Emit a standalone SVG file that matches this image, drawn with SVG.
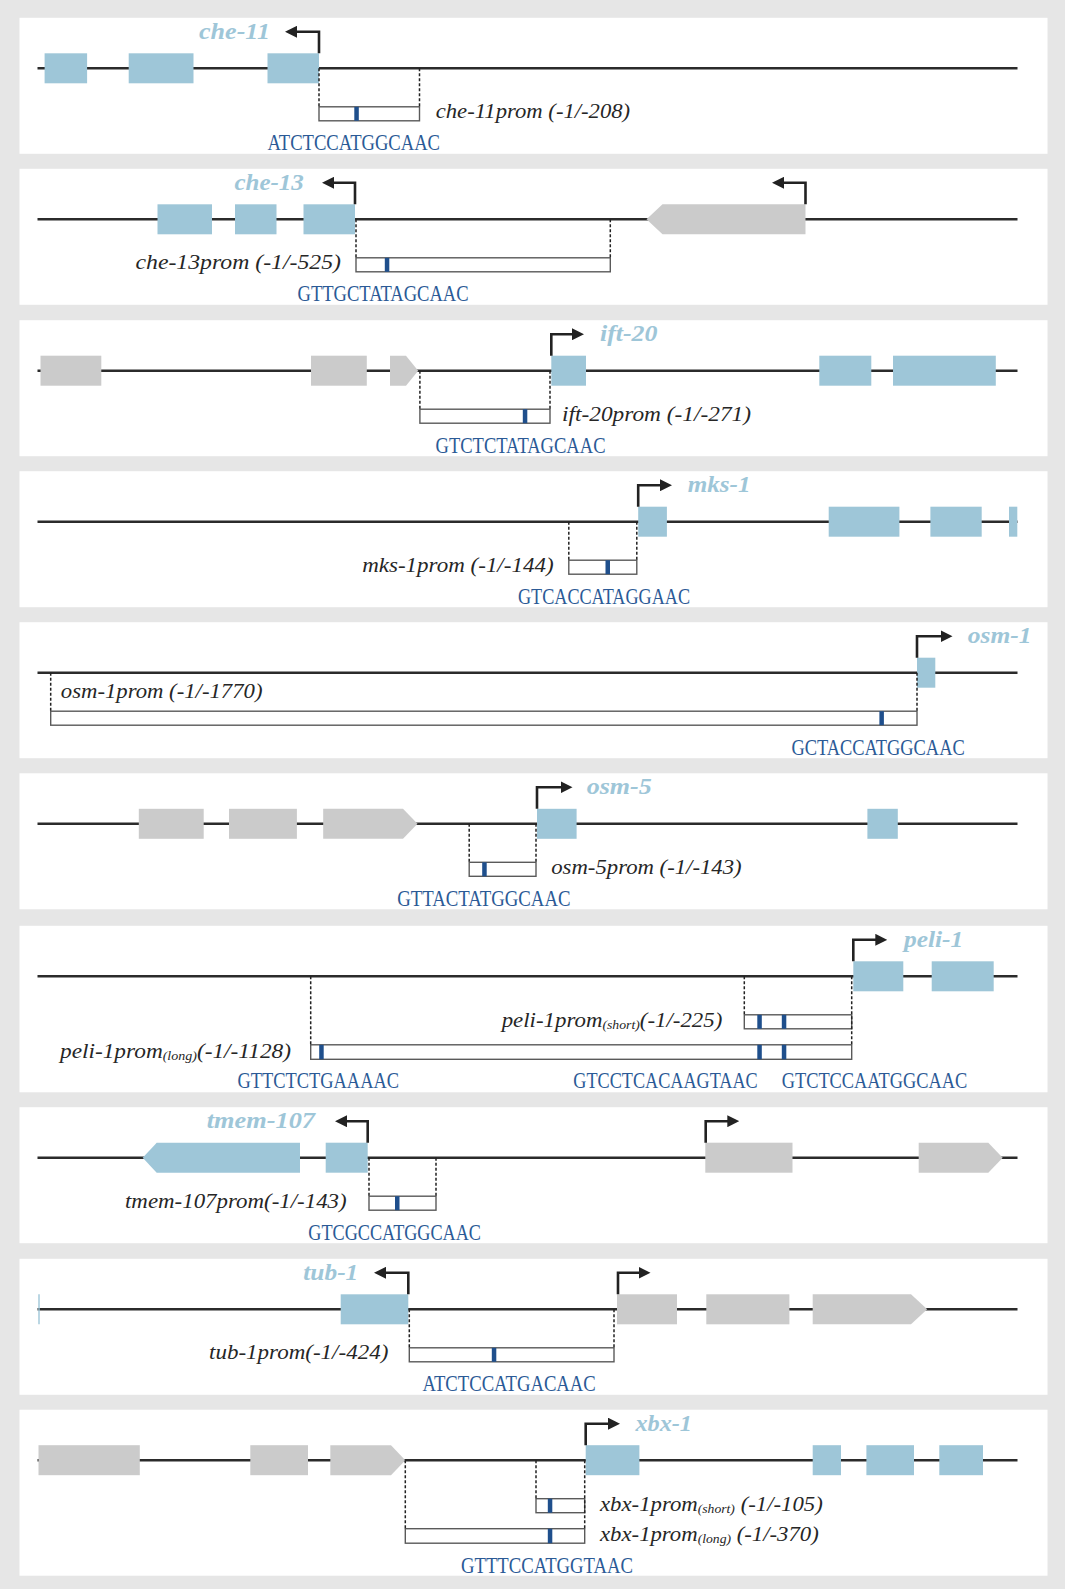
<svg xmlns="http://www.w3.org/2000/svg" width="1065" height="1589" viewBox="0 0 1065 1589">
  <style>
    .bg { fill: #e6e6e6; }
    .panel { fill: #ffffff; }
    .chr { stroke: #2b2b2b; stroke-width: 2.6; fill: none; }
    .exon { fill: #9ec6d8; }
    .other { fill: #cbcbcb; }
    .tss { fill: none; stroke: #222222; stroke-width: 2.6; }
    .guide { stroke: #222222; stroke-width: 1.5; stroke-dasharray: 3 2; fill: none; }
    .prom { fill: #ffffff; stroke: #5a5a5a; stroke-width: 1.4; }
    .site { fill: #1f4f8c; }
    .gname { font-family: "Liberation Serif", serif; font-weight: bold; font-style: italic; font-size: 23px; fill: #9ec6d8; }
    .plabel { font-family: "Liberation Serif", serif; font-style: italic; font-size: 20px; fill: #262626; }
    .sub { font-size: 12px; }
    .seq { font-family: "Liberation Serif", serif; font-size: 23px; fill: #2b5a96; }
  </style>
  <defs>
    <marker id="head" markerUnits="userSpaceOnUse" markerWidth="12" markerHeight="12" refX="6" refY="6" orient="auto">
      <path d="M0,0 L12,6 L0,12 z" fill="#222222"/>
    </marker>
    <line id="chrline" x1="37.5" y1="50" x2="1017.5" y2="50" class="chr"/>
  </defs>

  <rect class="bg" x="0" y="0" width="1065" height="1589"/>

  <!-- che-11 -->
  <g id="panel-che-11" transform="translate(0,18.3)">
    <rect class="panel" x="19.5" y="-0.5" width="1028" height="136"/>
    <use href="#chrline"/>
    <g id="gene-che-11">
      <rect class="exon" x="44.6" y="35" width="42.5" height="30"/>
      <rect class="exon" x="128.7" y="35" width="64.8" height="30"/>
      <rect class="exon" x="267.5" y="35" width="51.5" height="30"/>
      <text class="gname" x="199" y="20.5" textLength="71" lengthAdjust="spacingAndGlyphs">che-11</text>
    </g>
    <g id="prom-che-11">
      <rect class="prom" x="319" y="88.5" width="100.5" height="14"/>
      <rect class="site" x="354.3" y="88.5" width="4.5" height="14"/>
      <text class="plabel" x="435.7" y="100" textLength="194.5" lengthAdjust="spacingAndGlyphs">che-11prom (-1/-208)</text>
      <text class="seq" x="267.5" y="132" textLength="172.5" lengthAdjust="spacingAndGlyphs">ATCTCCATGGCAAC</text>
    </g>
    <g id="links-che-11">
      <path class="tss" d="M319,35 V13.5 H291" marker-end="url(#head)"/>
      <path class="guide" d="M319,50 V88.5 M419.5,50 V88.5"/>
    </g>
  </g>

  <!-- che-13 -->
  <g id="panel-che-13" transform="translate(0,169.3)">
    <rect class="panel" x="19.5" y="-0.5" width="1028" height="136"/>
    <use href="#chrline"/>
    <g id="gene-che-13">
      <rect class="exon" x="157.5" y="35" width="54.5" height="30"/>
      <rect class="exon" x="235" y="35" width="41.5" height="30"/>
      <rect class="exon" x="303.5" y="35" width="51.5" height="30"/>
      <text class="gname" x="234.4" y="20.5" textLength="69.5" lengthAdjust="spacingAndGlyphs">che-13</text>
    </g>
    <g id="gene-che-13-neighbour">
      <polygon class="other" points="646.5,50 662.5,35 805.5,35 805.5,65 662.5,65"/>
    </g>
    <g id="prom-che-13">
      <rect class="prom" x="356" y="88.5" width="254.3" height="14"/>
      <rect class="site" x="384.8" y="88.5" width="4.5" height="14"/>
      <text class="plabel" x="135.5" y="100" textLength="205.5" lengthAdjust="spacingAndGlyphs">che-13prom (-1/-525)</text>
      <text class="seq" x="297.6" y="132" textLength="171" lengthAdjust="spacingAndGlyphs">GTTGCTATAGCAAC</text>
    </g>
    <g id="links-che-13">
      <path class="tss" d="M355,35 V13.5 H328" marker-end="url(#head)"/>
      <path class="tss" d="M805.5,35 V13.5 H778" marker-end="url(#head)"/>
      <path class="guide" d="M356,50 V88.5 M610.3,50 V88.5"/>
    </g>
  </g>

  <!-- ift-20 -->
  <g id="panel-ift-20" transform="translate(0,320.7)">
    <rect class="panel" x="19.5" y="-0.5" width="1028" height="136"/>
    <use href="#chrline"/>
    <g id="gene-ift-20-neighbours">
      <rect class="other" x="40.5" y="35" width="60.8" height="30"/>
      <rect class="other" x="311" y="35" width="55.8" height="30"/>
      <polygon class="other" points="390,35 406,35 418.2,50 406,65 390,65"/>
    </g>
    <g id="gene-ift-20">
      <rect class="exon" x="551.3" y="35" width="34.7" height="30"/>
      <rect class="exon" x="819.3" y="35" width="52" height="30"/>
      <rect class="exon" x="893" y="35" width="102.8" height="30"/>
      <text class="gname" x="600" y="20.5" textLength="57.5" lengthAdjust="spacingAndGlyphs">ift-20</text>
    </g>
    <g id="prom-ift-20">
      <rect class="prom" x="419.9" y="88.5" width="130.1" height="14"/>
      <rect class="site" x="522.8" y="88.5" width="4.5" height="14"/>
      <text class="plabel" x="562" y="100" textLength="189" lengthAdjust="spacingAndGlyphs">ift-20prom (-1/-271)</text>
      <text class="seq" x="435.5" y="132" textLength="170" lengthAdjust="spacingAndGlyphs">GTCTCTATAGCAAC</text>
    </g>
    <g id="links-ift-20">
      <path class="tss" d="M551.3,35 V13.5 H578" marker-end="url(#head)"/>
      <path class="guide" d="M419.9,50 V88.5 M550,50 V88.5"/>
    </g>
  </g>

  <!-- mks-1 -->
  <g id="panel-mks-1" transform="translate(0,471.7)">
    <rect class="panel" x="19.5" y="-0.5" width="1028" height="136"/>
    <use href="#chrline"/>
    <g id="gene-mks-1">
      <rect class="exon" x="638.2" y="35" width="28.7" height="30"/>
      <rect class="exon" x="828.7" y="35" width="70.7" height="30"/>
      <rect class="exon" x="930.4" y="35" width="51.3" height="30"/>
      <rect class="exon" x="1009" y="35" width="8.3" height="30"/>
      <text class="gname" x="687.7" y="20.5" textLength="62.8" lengthAdjust="spacingAndGlyphs">mks-1</text>
    </g>
    <g id="prom-mks-1">
      <rect class="prom" x="568.8" y="88.5" width="68" height="14"/>
      <rect class="site" x="605.5" y="88.5" width="4.5" height="14"/>
      <text class="plabel" x="362.2" y="100" textLength="191.4" lengthAdjust="spacingAndGlyphs">mks-1prom (-1/-144)</text>
      <text class="seq" x="518" y="132" textLength="172" lengthAdjust="spacingAndGlyphs">GTCACCATAGGAAC</text>
    </g>
    <g id="links-mks-1">
      <path class="tss" d="M638.2,35 V13.5 H666" marker-end="url(#head)"/>
      <path class="guide" d="M568.8,50 V88.5 M636.8,50 V88.5"/>
    </g>
  </g>

  <!-- osm-1 -->
  <g id="panel-osm-1" transform="translate(0,622.7)">
    <rect class="panel" x="19.5" y="-0.5" width="1028" height="136"/>
    <use href="#chrline"/>
    <g id="gene-osm-1">
      <rect class="exon" x="917" y="35" width="18.3" height="30"/>
      <text class="gname" x="967.7" y="20.5" textLength="63.8" lengthAdjust="spacingAndGlyphs">osm-1</text>
    </g>
    <g id="prom-osm-1">
      <rect class="prom" x="50.7" y="88.5" width="866.3" height="14"/>
      <rect class="site" x="879.4" y="88.5" width="4.5" height="14"/>
      <text class="plabel" x="60.8" y="75.5" textLength="201.7" lengthAdjust="spacingAndGlyphs">osm-1prom (-1/-1770)</text>
      <text class="seq" x="791.4" y="132" textLength="173.3" lengthAdjust="spacingAndGlyphs">GCTACCATGGCAAC</text>
    </g>
    <g id="links-osm-1">
      <path class="tss" d="M917,35 V13.5 H946.5" marker-end="url(#head)"/>
      <path class="guide" d="M50.7,50 V88.5 M917,50 V88.5"/>
    </g>
  </g>

  <!-- osm-5 -->
  <g id="panel-osm-5" transform="translate(0,773.8)">
    <rect class="panel" x="19.5" y="-0.5" width="1028" height="136"/>
    <use href="#chrline"/>
    <g id="gene-osm-5-neighbours">
      <rect class="other" x="138.8" y="35" width="64.9" height="30"/>
      <rect class="other" x="229" y="35" width="67.9" height="30"/>
      <polygon class="other" points="323.2,35 403,35 417.5,50 403,65 323.2,65"/>
    </g>
    <g id="gene-osm-5">
      <rect class="exon" x="537" y="35" width="39.6" height="30"/>
      <rect class="exon" x="867.4" y="35" width="30.4" height="30"/>
      <text class="gname" x="586.7" y="20.5" textLength="65" lengthAdjust="spacingAndGlyphs">osm-5</text>
    </g>
    <g id="prom-osm-5">
      <rect class="prom" x="469.2" y="88.5" width="66.8" height="14"/>
      <rect class="site" x="482.2" y="88.5" width="4.5" height="14"/>
      <text class="plabel" x="551.2" y="100" textLength="190.5" lengthAdjust="spacingAndGlyphs">osm-5prom (-1/-143)</text>
      <text class="seq" x="397.2" y="132" textLength="173.3" lengthAdjust="spacingAndGlyphs">GTTACTATGGCAAC</text>
    </g>
    <g id="links-osm-5">
      <path class="tss" d="M537,35 V13.5 H566.5" marker-end="url(#head)"/>
      <path class="guide" d="M469.2,50 V88.5 M536,50 V88.5"/>
    </g>
  </g>

  <!-- peli-1 -->
  <g id="panel-peli-1" transform="translate(0,926.3)">
    <rect class="panel" x="19.5" y="-0.5" width="1028" height="166.5"/>
    <use href="#chrline"/>
    <g id="gene-peli-1">
      <rect class="exon" x="853.3" y="35" width="50" height="30"/>
      <rect class="exon" x="931.7" y="35" width="62" height="30"/>
      <text class="gname" x="904" y="20.5" textLength="59.3" lengthAdjust="spacingAndGlyphs">peli-1</text>
    </g>
    <g id="prom-peli-1-short">
      <rect class="prom" x="744.3" y="88.5" width="107.4" height="14"/>
      <rect class="site" x="757.3" y="88.5" width="4.5" height="14"/>
      <rect class="site" x="781.8" y="88.5" width="4.5" height="14"/>
      <text class="plabel" x="501.7" y="101" textLength="220.6" lengthAdjust="spacingAndGlyphs">peli-1prom<tspan class="sub" dy="2">(short)</tspan><tspan dy="-2">(-1/-225)</tspan></text>
    </g>
    <g id="prom-peli-1-long">
      <rect class="prom" x="310.7" y="118.5" width="541" height="14.5"/>
      <rect class="site" x="319.2" y="118.5" width="4.5" height="14.5"/>
      <rect class="site" x="757.3" y="118.5" width="4.5" height="14.5"/>
      <rect class="site" x="781.8" y="118.5" width="4.5" height="14.5"/>
      <text class="plabel" x="60" y="132" textLength="231" lengthAdjust="spacingAndGlyphs">peli-1prom<tspan class="sub" dy="2">(long)</tspan><tspan dy="-2">(-1/-1128)</tspan></text>
    </g>
    <g id="sites-peli-1">
      <text class="seq" transform="translate(237.5,162) scale(0.79,1)" textLength="204.4" lengthAdjust="spacingAndGlyphs">GTTCTCTGAAAAC</text>
      <text class="seq" transform="translate(573.3,162) scale(0.79,1)" textLength="233.4" lengthAdjust="spacingAndGlyphs">GTCCTCACAAGTAAC</text>
      <text class="seq" transform="translate(781.7,162) scale(0.79,1)" textLength="234.9" lengthAdjust="spacingAndGlyphs">GTCTCCAATGGCAAC</text>
    </g>
    <g id="links-peli-1">
      <path class="tss" d="M853.3,35 V13.5 H881.3" marker-end="url(#head)"/>
      <path class="guide" d="M310.7,50 V118.5 M744.3,50 V88.5 M851.7,50 V118.5"/>
    </g>
  </g>

  <!-- tmem-107 -->
  <g id="panel-tmem-107" transform="translate(0,1107.7)">
    <rect class="panel" x="19.5" y="-0.5" width="1028" height="136"/>
    <use href="#chrline"/>
    <g id="gene-tmem-107">
      <polygon class="exon" points="142.7,50 156.7,35 300,35 300,65 156.7,65"/>
      <rect class="exon" x="325.7" y="35" width="42" height="30"/>
      <text class="gname" x="206.7" y="20.5" textLength="108.3" lengthAdjust="spacingAndGlyphs">tmem-107</text>
    </g>
    <g id="gene-tmem-107-neighbours">
      <rect class="other" x="705.3" y="35" width="87.2" height="30"/>
      <polygon class="other" points="918.7,35 988.3,35 1002.7,50 988.3,65 918.7,65"/>
    </g>
    <g id="prom-tmem-107">
      <rect class="prom" x="369" y="88.5" width="67" height="14"/>
      <rect class="site" x="395" y="88.5" width="4.5" height="14"/>
      <text class="plabel" x="125" y="100" textLength="221.7" lengthAdjust="spacingAndGlyphs">tmem-107prom(-1/-143)</text>
      <text class="seq" x="308.3" y="132" textLength="172.7" lengthAdjust="spacingAndGlyphs">GTCGCCATGGCAAC</text>
    </g>
    <g id="links-tmem-107">
      <path class="tss" d="M367.7,35 V13.5 H341" marker-end="url(#head)"/>
      <path class="tss" d="M705.7,35 V13.5 H733.3" marker-end="url(#head)"/>
      <path class="guide" d="M369,50 V88.5 M436,50 V88.5"/>
    </g>
  </g>

  <!-- tub-1 -->
  <g id="panel-tub-1" transform="translate(0,1259.3)">
    <rect class="panel" x="19.5" y="-0.5" width="1028" height="136"/>
    <use href="#chrline"/>
    <g id="gene-tub-1">
      <line x1="39" y1="35" x2="39" y2="65" stroke="#9ec6d8" stroke-width="1.4"/>
      <rect class="exon" x="340.7" y="35" width="67.6" height="30"/>
      <text class="gname" x="303.3" y="20.5" textLength="55" lengthAdjust="spacingAndGlyphs">tub-1</text>
    </g>
    <g id="gene-tub-1-neighbours">
      <rect class="other" x="617" y="35" width="60" height="30"/>
      <rect class="other" x="706.3" y="35" width="83.1" height="30"/>
      <polygon class="other" points="812.7,35 911,35 927.2,50 911,65 812.7,65"/>
    </g>
    <g id="prom-tub-1">
      <rect class="prom" x="409.3" y="88.5" width="204.7" height="14"/>
      <rect class="site" x="491.8" y="88.5" width="4.5" height="14"/>
      <text class="plabel" x="209" y="100" textLength="179.3" lengthAdjust="spacingAndGlyphs">tub-1prom(-1/-424)</text>
      <text class="seq" x="422.5" y="132" textLength="173.3" lengthAdjust="spacingAndGlyphs">ATCTCCATGACAAC</text>
    </g>
    <g id="links-tub-1">
      <path class="tss" d="M408.3,35 V13.5 H380" marker-end="url(#head)"/>
      <path class="tss" d="M618,35 V13.5 H644.5" marker-end="url(#head)"/>
      <path class="guide" d="M409.3,50 V88.5 M614,50 V88.5"/>
    </g>
  </g>

  <!-- xbx-1 -->
  <g id="panel-xbx-1" transform="translate(0,1410.2)">
    <rect class="panel" x="19.5" y="-0.5" width="1028" height="166"/>
    <use href="#chrline"/>
    <g id="gene-xbx-1-neighbours">
      <rect class="other" x="38.5" y="35" width="101.3" height="30"/>
      <rect class="other" x="250.3" y="35" width="57.7" height="30"/>
      <polygon class="other" points="330.3,35 391,35 405.3,50 391,65 330.3,65"/>
    </g>
    <g id="gene-xbx-1">
      <rect class="exon" x="585.7" y="35" width="53.7" height="30"/>
      <rect class="exon" x="812.7" y="35" width="28.3" height="30"/>
      <rect class="exon" x="866.4" y="35" width="47.6" height="30"/>
      <rect class="exon" x="939.3" y="35" width="43.7" height="30"/>
      <text class="gname" x="635.4" y="20.5" textLength="56.6" lengthAdjust="spacingAndGlyphs">xbx-1</text>
    </g>
    <g id="prom-xbx-1-short">
      <rect class="prom" x="536" y="88.5" width="48.7" height="14"/>
      <rect class="site" x="547.8" y="88.5" width="4.5" height="14"/>
      <text class="plabel" x="600" y="100.5" textLength="222.8" lengthAdjust="spacingAndGlyphs">xbx-1prom<tspan class="sub" dy="2">(short)</tspan><tspan dy="-2"> (-1/-105)</tspan></text>
    </g>
    <g id="prom-xbx-1-long">
      <rect class="prom" x="405.3" y="118.5" width="179.4" height="14.5"/>
      <rect class="site" x="547.8" y="118.5" width="4.5" height="14.5"/>
      <text class="plabel" x="600" y="130.5" textLength="218.8" lengthAdjust="spacingAndGlyphs">xbx-1prom<tspan class="sub" dy="2">(long)</tspan><tspan dy="-2"> (-1/-370)</tspan></text>
    </g>
    <text class="seq" x="461" y="162.5" textLength="172" lengthAdjust="spacingAndGlyphs">GTTTCCATGGTAAC</text>
    <g id="links-xbx-1">
      <path class="tss" d="M585.7,35 V13.5 H614" marker-end="url(#head)"/>
      <path class="guide" d="M405.3,50 V118.5 M536,50 V88.5 M584.7,50 V118.5"/>
    </g>
  </g>
</svg>
